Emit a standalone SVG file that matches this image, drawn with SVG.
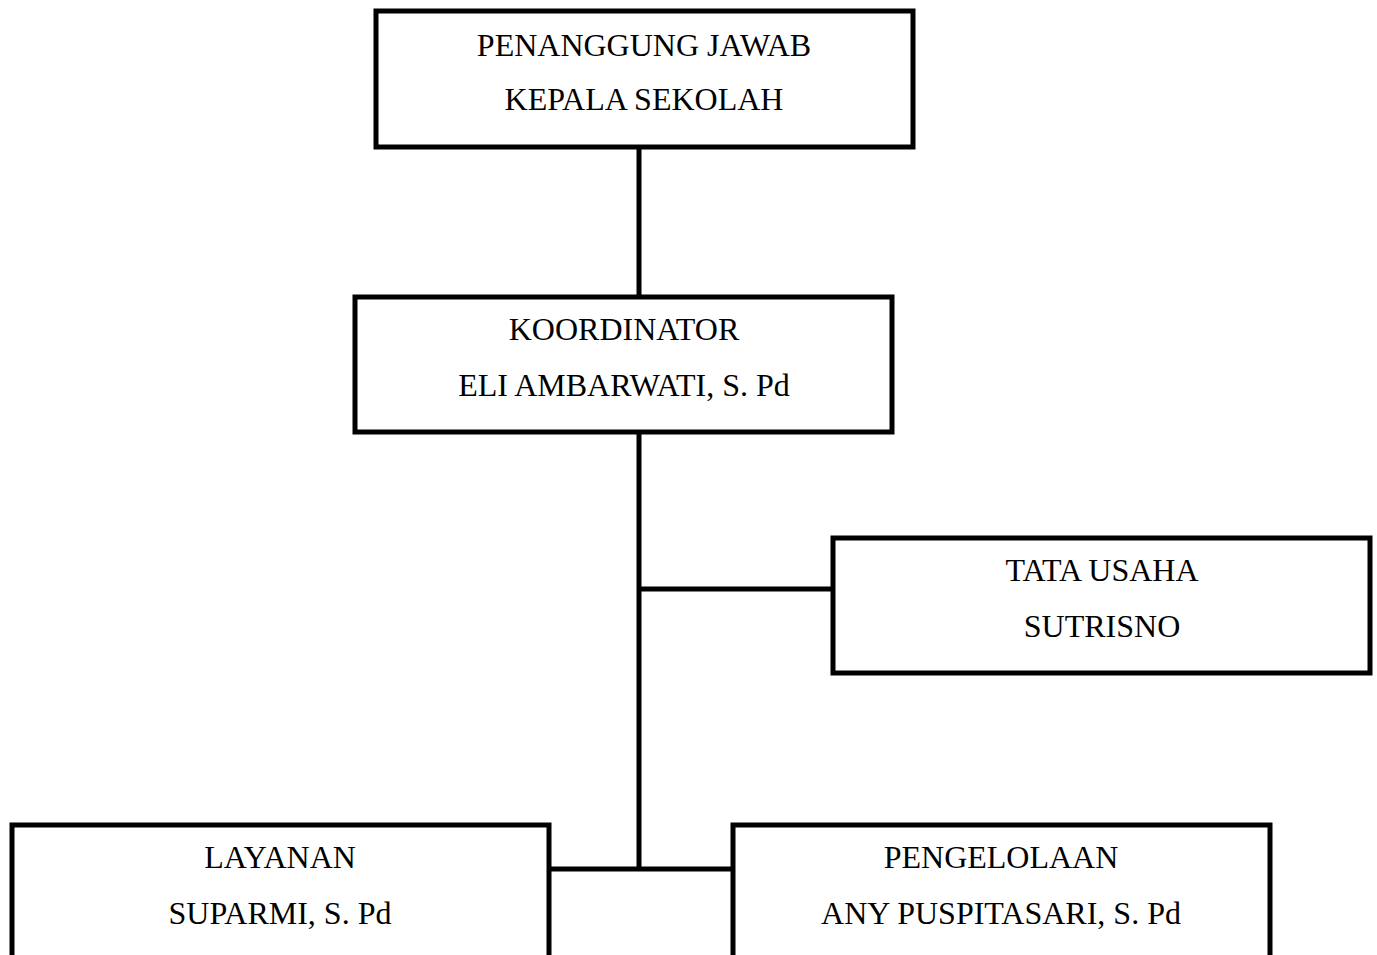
<svg xmlns="http://www.w3.org/2000/svg" width="1377" height="955" viewBox="0 0 1377 955">
<style>
.box{fill:#fff;stroke:#000;stroke-width:5}
.ln{stroke:#000;stroke-width:5;fill:none}
text{font-family:"Liberation Serif","Times New Roman",serif;font-size:32px;fill:#000;text-anchor:middle}
</style>
<rect width="1377" height="955" fill="#fff"/>
<g id="connectors">
<line class="ln" x1="639" y1="147" x2="639" y2="297"/>
<line class="ln" x1="639" y1="432" x2="639" y2="869"/>
<line class="ln" x1="639" y1="589" x2="833" y2="589"/>
<line class="ln" x1="551" y1="869" x2="733" y2="869"/>
</g>
<g id="penanggung-jawab">
<rect class="box" x="376" y="11" width="537" height="136"/>
<text x="644" y="56">PENANGGUNG JAWAB</text>
<text x="644" y="110">KEPALA SEKOLAH</text>
</g>
<g id="koordinator">
<rect class="box" x="355" y="297" width="537" height="135"/>
<text x="624" y="340">KOORDINATOR</text>
<text x="624" y="396">ELI AMBARWATI, S. Pd</text>
</g>
<g id="tata-usaha">
<rect class="box" x="833" y="538" width="537" height="135"/>
<text x="1102" y="581">TATA USAHA</text>
<text x="1102" y="637">SUTRISNO</text>
</g>
<g id="layanan">
<rect class="box" x="12" y="825" width="537" height="160"/>
<text x="280" y="868">LAYANAN</text>
<text x="280" y="924">SUPARMI, S. Pd</text>
</g>
<g id="pengelolaan">
<rect class="box" x="733" y="825" width="537" height="160"/>
<text x="1001" y="868">PENGELOLAAN</text>
<text x="1001" y="924">ANY PUSPITASARI, S. Pd</text>
</g>
</svg>
